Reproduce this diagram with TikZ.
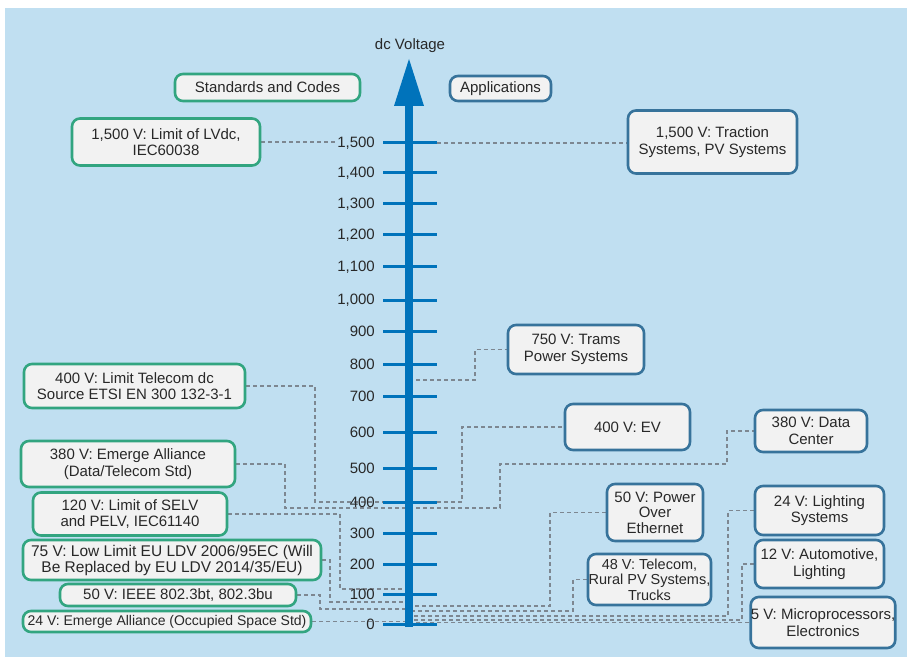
\documentclass[tikz,border=0pt]{standalone}
\usepackage{fontspec}
\setmainfont{Liberation Sans}
\usetikzlibrary{backgrounds}

\definecolor{paper}{RGB}{192,223,241}
\definecolor{boxfill}{RGB}{242,242,242}
\definecolor{gborder}{RGB}{50,165,128}
\definecolor{bborder}{RGB}{55,115,155}
\definecolor{axisc}{RGB}{0,115,187}
\definecolor{ink}{RGB}{40,40,40}
\definecolor{connc}{RGB}{125,135,145}

\tikzset{
  box/.style={draw, line width=2.6pt, rounded corners=8pt, fill=boxfill,
    inner sep=0pt, align=center, text=ink, font=\fontsize{15}{16.5}\selectfont},
  gbox/.style={box, draw=gborder},
  bbox/.style={box, draw=bborder},
  conn/.style={draw=connc, line width=1.3pt, dash pattern=on 4pt off 3pt},
  scaletick/.style={draw=axisc, line width=3pt},
  ticklabel/.style={anchor=east, inner sep=0pt, text=ink, font=\fontsize{15}{15}\selectfont},
}

\begin{document}
\begin{tikzpicture}[x=1pt,y=-1pt]
\useasboundingbox (0,0) rectangle (907,660);
\begin{scope}[on background layer]
\fill[white] (0,0) rectangle (907,660);
\fill[paper] (5,8) rectangle (907,657);
\end{scope}

% points on the voltage axis
\coordinate (v1500) at (409,143);
\coordinate (v750)  at (409,380);
\coordinate (v400)  at (409,502);
\coordinate (v380)  at (409,508);
\coordinate (v120)  at (409,589);
\coordinate (v75)   at (409,602);
\coordinate (v50r)  at (409,606);
\coordinate (v50l)  at (409,609);
\coordinate (v48)   at (409,611);
\coordinate (v24r)  at (409,616);
\coordinate (v12)   at (409,620);
\coordinate (v0)    at (409,624);

% bend points of the leader lines
\coordinate (b750)  at (475,380);
\coordinate (b400l) at (315,502);
\coordinate (b380l) at (285,508);
\coordinate (b400r) at (462,502);
\coordinate (b380r) at (500,508);
\coordinate (c380r) at (727,464);
\coordinate (b120)  at (340,589);
\coordinate (b75)   at (330,602);
\coordinate (b50l)  at (320,609);
\coordinate (b50r)  at (550,606);
\coordinate (b48)   at (573,611);
\coordinate (b24r)  at (728,616);
\coordinate (b12)   at (742,620);

% scale ticks
\foreach \y in {143,173,204,235,267,300,331,364,396,432,468,502,533,564,594,624}{
  \draw[scaletick] (383,\y) -- (437,\y);
}

% voltage axis with arrow head
\fill[axisc] (405,627) rectangle (413,104);
\fill[axisc] (394,106) -- (409,59) -- (424,106) -- cycle;
\node[text=ink, font=\fontsize{15}{15}\selectfont] (dcv) at (410,46) {dc Voltage};

% scale labels
\foreach \v/\y/\t in {1500/143/{1,500},1400/173/{1,400},1300/204/{1,300},
    1200/235/{1,200},1100/267/{1,100},1000/300/{1,000},900/331/{900},
    800/364/{800},700/396/{700},600/432/{600},500/468/{500},400/502/{400},
    300/533/{300},200/564/{200},100/594/{100},0/624/{0}}{
  \node[ticklabel] (lab\v) at (375,\y) {\t};
}

% standards (left) and applications (right)
\node[gbox, minimum width=185pt, minimum height=27pt] (std) at (267.5,87.5) {Standards and Codes};
\node[bbox, minimum width=101pt, minimum height=25pt] (app) at (500.5,88.5) {Applications};

\node[gbox, minimum width=188pt, minimum height=47pt] (g1500) at (166,142) {1,500 V: Limit of LVdc,\\IEC60038};
\node[gbox, minimum width=221pt, minimum height=44pt] (g400) at (134.5,386) {400 V: Limit Telecom dc\\Source ETSI EN 300 132-3-1};
\node[gbox, minimum width=214pt, minimum height=46pt] (g380) at (128,464) {380 V: Emerge Alliance\\(Data/Telecom Std)};
\node[gbox, minimum width=194pt, minimum height=43pt] (g120) at (130,514) {120 V: Limit of SELV\\and PELV, IEC61140};
\node[gbox, minimum width=298pt, minimum height=40pt, font=\fontsize{15.5}{16}\selectfont] (g75) at (172,560) {75 V: Low Limit EU LDV 2006/95EC (Will\\Be Replaced by EU LDV 2014/35/EU)};
\node[gbox, minimum width=236pt, minimum height=22pt] (g50) at (178,595) {50 V: IEEE 802.3bt, 802.3bu};
\node[gbox, minimum width=288pt, minimum height=21pt, font=\fontsize{14}{15}\selectfont] (g24) at (167,621.5) {24 V: Emerge Alliance (Occupied Space Std)};

\node[bbox, minimum width=169pt, minimum height=63pt, font=\fontsize{15}{17.5}\selectfont] (a1500) at (712.5,142) {1,500 V: Traction\\Systems, PV Systems};
\node[bbox, minimum width=136pt, minimum height=49pt] (a750) at (576,349.5) {750 V: Trams\\Power Systems};
\node[bbox, minimum width=125pt, minimum height=46pt] (aEV) at (627.5,427) {400 V: EV};
\node[bbox, minimum width=112pt, minimum height=42pt] (aDC) at (811,431) {380 V: Data\\Center};
\node[bbox, minimum width=96pt, minimum height=57pt, font=\fontsize{15}{15.5}\selectfont] (aPoE) at (655,512.5) {50 V: Power\\Over\\Ethernet};
\node[bbox, minimum width=123pt, minimum height=51pt, font=\fontsize{14.5}{15.5}\selectfont] (a48) at (649.5,579.5) {48 V: Telecom,\\Rural PV Systems,\\Trucks};
\node[bbox, minimum width=129pt, minimum height=49pt] (aLight) at (819.5,510.5) {24 V: Lighting\\Systems};
\node[bbox, minimum width=129pt, minimum height=48pt] (aAuto) at (819.5,564) {12 V: Automotive,\\Lighting};
\node[bbox, minimum width=144pt, minimum height=51pt] (a5) at (823,622.5) {5 V: Microprocessors,\\Electronics};

% leader lines, kept behind the scale and the boxes
\begin{scope}[on background layer]
\draw[conn] (g1500.east) -- (g1500.east -| lab1500.west);
\draw[conn] (v1500) -- (v1500 -| a1500.west);
\draw[conn] (v750) -- (b750) |- (a750.west);
\draw[conn] (g400.east) -| (b400l) -- (v400);
\draw[conn] (g380.east) -| (b380l) -- (v380);
\draw[conn] (v400) -- (b400r) |- (aEV.west);
\draw[conn] (v380) -- (b380r) |- (c380r) |- (aDC.west);
\draw[conn] (g120.east) -| (b120) -- (v120);
\draw[conn] (g75.east) -| (b75) -- (v75);
\draw[conn] (g50.east) -| (b50l) -- (v50l);
\draw[conn] (g24.east) -- (g24.east -| v0);
\draw[conn] (aPoE.west) -| (b50r) -- (v50r);
\draw[conn] (a48.west) -| (b48) -- (v48);
\draw[conn] (aLight.west) -| (b24r) -- (v24r);
\draw[conn] (aAuto.west) -| (b12) -- (v12);
\draw[conn] (a5.west) -- (a5.west -| v0);
\end{scope}
\end{tikzpicture}
\end{document}
